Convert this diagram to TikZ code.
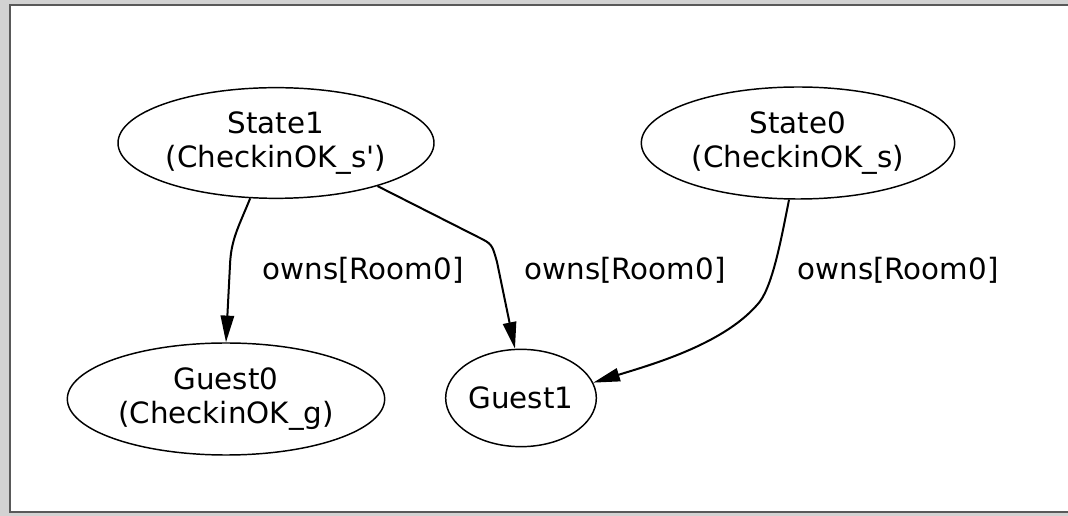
\documentclass[tikz,border=0pt]{standalone}
\usepackage{fontspec}
\setmainfont{DejaVu Sans}[Ligatures=TeXOff]
\usetikzlibrary{shapes.geometric,arrows.meta}
\begin{document}
\begin{tikzpicture}[x=0.75pt,y=0.75pt,yscale=-1,xscale=1,
  atom/.style={draw, ellipse, line width=1.1pt, inner sep=0pt, align=center,
    font=\fontsize{22}{26}\selectfont},
  lbl/.style={inner sep=0.75pt, font=\fontsize{22}{26}\selectfont},
  owns/.style={line width=1.5pt, -{Triangle[length=20pt,width=10pt]}}]
\useasboundingbox (0,0) rectangle (1068,516);
%Shape: Frame
\fill [gray!35] (0,0) rectangle (9,516);
\fill [gray!35] (0,0) rectangle (1068,4);
\fill [gray!35] (9,513) rectangle (1068,516);
\draw [gray!70!black, line width=1.5pt] (1068,5.5) -- (9.5,5.5) -- (9.5,512.5) -- (1068,512.5);
% Nodes
\node [atom, minimum width=237pt, minimum height=83pt] (s1) at (276,143) {State1\\(CheckinOK\_s')};
\node [atom, minimum width=235pt, minimum height=84pt] (s0) at (798,143) {State0\\(CheckinOK\_s)};
\node [atom, minimum width=238pt, minimum height=84pt] (g0) at (226,399) {Guest0\\(CheckinOK\_g)};
\node [atom, minimum width=113pt, minimum height=73pt] (g1) at (521,398) {Guest1};
% Edge labels
\node [lbl] (l1) at (363,270) {owns[Room0]};
\node [lbl] (l2) at (625,270) {owns[Room0]};
\node [lbl] (l3) at (898,270) {owns[Room0]};
% Edges
\draw [owns] (s1.245) .. controls (238,228) and (231,240) .. (230,265) -- (g0.north);
\draw [owns] (s1.337) -- (478,237) .. controls (492,244) .. (497,262) -- (g1.97);
\draw [owns] (s0.261) .. controls (781,240) and (772,290) .. (757,305) .. controls (722,345) and (650,365) .. (g1.12);
\end{tikzpicture}
\end{document}
